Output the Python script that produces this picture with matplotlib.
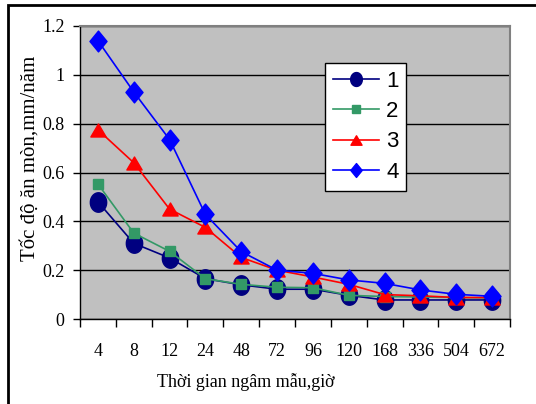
import matplotlib
matplotlib.use("Agg")
import matplotlib.pyplot as plt
import numpy as np
from matplotlib.path import Path
from matplotlib.patches import Rectangle
from matplotlib.lines import Line2D

categories = ["4", "8", "12", "24", "48", "72", "96", "120", "168", "336", "504", "672"]
s1 = [0.48, 0.31, 0.25, 0.165, 0.14, 0.122, 0.122, 0.097, 0.078, 0.078, 0.078, 0.078]
s2 = [0.553, 0.352, 0.277, 0.165, 0.142, 0.13, 0.128, 0.097, 0.092, 0.09, 0.088, 0.086]
s3 = [0.775, 0.64, 0.45, 0.375, 0.252, 0.2, 0.172, 0.142, 0.1, 0.095, 0.088, 0.088]
s4 = [1.14, 0.93, 0.735, 0.428, 0.276, 0.2, 0.187, 0.16, 0.146, 0.119, 0.101, 0.093]
series_labels = ["1", "2", "3", "4"]
yticks = [0, 0.2, 0.4, 0.6, 0.8, 1.0, 1.2]
ytick_labels = ["0", "0.2", "0.4", "0.6", "0.8", "1", "1.2"]

W, H = 536, 404
fig = plt.figure(figsize=(W / 100, H / 100), dpi=100)
L, R, T, B = 80, 510, 26, 319
ax = fig.add_axes([L / W, 1 - B / H, (R - L) / W, (B - T) / H])
ax.set_facecolor("#C0C0C0")

serif = ["Liberation Serif", "DejaVu Serif"]
sans = ["Liberation Sans", "DejaVu Sans"]

t = np.linspace(0, 2 * np.pi, 40)
ellipse = Path(np.column_stack([0.84 * np.cos(t), np.sin(t)]), closed=True)
diamond = Path([(0, 1), (0.82, 0), (0, -1), (-0.82, 0), (0, 1)], closed=True)
tri = Path([(-1, -0.85), (1, -0.85), (0, 0.85), (-1, -0.85)], closed=True)

x = np.arange(len(categories))
styles = [
    (s1, "#000080", ellipse, 14, 10),
    (s2, "#339966", "s", 7.5, 6),
    (s3, "#FF0000", tri, 11, 8),
    (s4, "#0000FF", diamond, 15, 10),
]
handles = []
for (vals, col, mk, ms, lms), lab in zip(styles, series_labels):
    ax.plot(x, vals, color=col, lw=1.2, marker=mk, ms=ms, mfc=col, mec=col, zorder=3, clip_on=False)
    handles.append(Line2D([], [], color=col, lw=1.2, marker=mk, ms=lms, mfc=col, mec=col, label=lab))

ax.set_xlim(-0.5, len(categories) - 0.5)
ax.set_ylim(0, 1.2)
ax.set_yticks(yticks)
ax.set_yticklabels(ytick_labels, fontfamily=serif, fontsize=13)
ax.yaxis.grid(True, color="black", lw=1.0)
ax.set_axisbelow(True)

ax.set_xticks(np.arange(-0.5, len(categories), 1.0))
ax.set_xticklabels([])
ax.set_xticks(x, minor=True)
ax.set_xticklabels(categories, minor=True, fontfamily=serif, fontsize=13)
ax.tick_params(axis="x", which="major", direction="out", length=6, width=1, color="black")
ax.tick_params(axis="x", which="minor", length=0, pad=17)
ax.tick_params(axis="y", direction="out", length=5, width=1, color="black", pad=6)

for s in ["top", "right"]:
    ax.spines[s].set_color("#808080")
    ax.spines[s].set_linewidth(1.5)
for s in ["left", "bottom"]:
    ax.spines[s].set_color("black")
    ax.spines[s].set_linewidth(1.0)

leg = ax.legend(handles=handles, loc="upper left",
                bbox_to_anchor=((325 - L) / (R - L), 1 - (63 - T) / (B - T)),
                prop={"family": sans, "size": 16}, frameon=True, fancybox=False,
                edgecolor="black", facecolor="white", framealpha=1,
                handlelength=2.1, handletextpad=0.3, labelspacing=0.42,
                borderpad=0.35, borderaxespad=0)
leg.get_frame().set_linewidth(1.0)

fig.text(30 / W, 1 - 158 / H, "Tốc độ ăn mòn,mm/năm", rotation=90, ha="center", va="center",
         fontfamily=serif, fontsize=15)
fig.text(246 / W, 1 - 382 / H, "Thời gian ngâm mẫu,giờ", ha="center", va="center",
         fontfamily=serif, fontsize=13)

fig.patches.append(Rectangle((8 / W, -0.1), 1.2, 1 - 5 / H + 0.1, transform=fig.transFigure,
                             fill=False, edgecolor="black", lw=2.0))

fig.savefig("out.png", dpi=100)
